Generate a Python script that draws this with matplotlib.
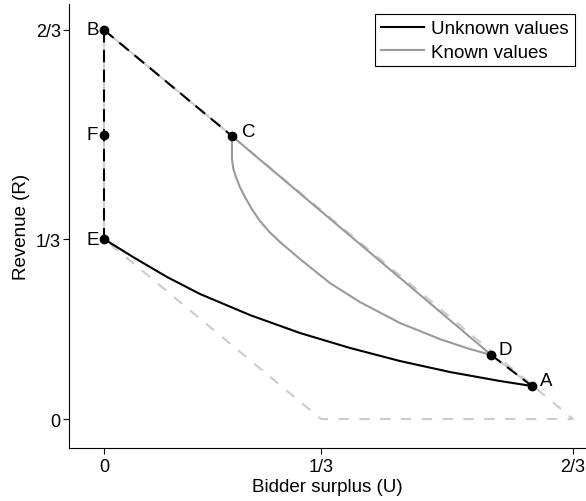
import matplotlib.pyplot as plt

plt.rcParams['font.family'] = ['Liberation Sans', 'DejaVu Sans']

# --- data ---
tick_vals = [0, 0.3333, 0.7204]
tick_labels = ['0', '1/3', '2/3']

# labelled points (U, R)
pt_names = ['A', 'B', 'C', 'D', 'E', 'F']
pt_u = [0.6575, 0.0, 0.1966, 0.5950, 0.0, 0.0]
pt_r = [0.0611, 0.7204, 0.5240, 0.1185, 0.3333, 0.5260]

# unknown values frontier (E -> A)
unk_u = [0.0, 0.0445, 0.0968, 0.1475, 0.224, 0.301, 0.378, 0.4547, 0.5315, 0.608, 0.6575]
unk_r = [0.3333, 0.3000, 0.2630, 0.2315, 0.1926, 0.1593, 0.1315, 0.1074, 0.0870, 0.0704, 0.0611]

# known values frontier (C -> D)
kn_u = [0.1966, 0.1966, 0.1985, 0.2028, 0.2090, 0.2166, 0.2270, 0.2396, 0.2540, 0.2704,
        0.301, 0.347, 0.393, 0.4547, 0.516, 0.562, 0.5950]
kn_r = [0.5240, 0.4815, 0.4640, 0.4480, 0.4290, 0.4110, 0.3890, 0.3667, 0.3465, 0.3278,
        0.2963, 0.2519, 0.2167, 0.1778, 0.1480, 0.1296, 0.1185]

# feasible set outline
out_u = [0.0, 0.7204, 0.3333, 0.0]
out_r = [0.7204, 0.0, 0.0, 0.3333]

fig = plt.figure(figsize=(5.86, 5.02), dpi=100)
ax = fig.add_axes([69 / 586, 53 / 502, 516 / 586, 444 / 502])

light = '#cccccc'
grey = '#9a9a9a'
fs = 13.5

ax.plot(out_u, out_r, color=light, lw=1.5, dashes=(5, 5))

# dashed parts of the unknown-values region
B, C, D, A, E = 1, 2, 3, 0, 4
for i, j in [(B, C), (D, A), (B, E)]:
    ax.plot([pt_u[i], pt_u[j]], [pt_r[i], pt_r[j]], color='black', lw=1.5,
            dashes=(6, 3.5), gapcolor=light)
ax.plot([pt_u[C], pt_u[D]], [pt_r[C], pt_r[D]], color=grey, lw=1.5)

ax.plot(unk_u, unk_r, color='black', lw=1.5, label='Unknown values')
ax.plot(kn_u, kn_r, color=grey, lw=1.5, label='Known values')

ax.plot(pt_u, pt_r, 'o', color='black', ms=6, zorder=5)
offsets = {'A': (6, 4), 'B': (-8.3, 0), 'C': (7, 3.6), 'D': (5, 4.3),
           'E': (-8.3, 0), 'F': (-8.3, 0)}
for n, u, r in zip(pt_names, pt_u, pt_r):
    dx, dy = offsets[n]
    ax.annotate(n, (u, r), xytext=(dx, dy), textcoords='offset points',
                ha='left' if dx > 0 else 'center', va='center', fontsize=fs)

ax.set_xlim(-0.0538, 0.739)
ax.set_ylim(-0.0537, 0.7685)
ax.set_xticks(tick_vals)
ax.set_xticklabels(tick_labels)
ax.set_yticks(tick_vals)
ax.set_yticklabels(tick_labels)
ax.tick_params(direction='out', length=4, labelsize=13)
ax.tick_params(axis='y', pad=2)
ax.spines['top'].set_visible(False)
ax.spines['right'].set_visible(False)
ax.set_xlabel('Bidder surplus (U)', fontsize=fs, labelpad=2)
ax.set_ylabel('Revenue (R)', fontsize=fs, labelpad=4)

leg = ax.legend(loc='upper right', fontsize=fs, fancybox=False, framealpha=1,
                edgecolor='black', borderaxespad=0.55, handlelength=2.3,
                handletextpad=0.4, borderpad=0.3, labelspacing=0.35)
leg.get_frame().set_linewidth(0.8)

fig.savefig('out.png', dpi=100)
